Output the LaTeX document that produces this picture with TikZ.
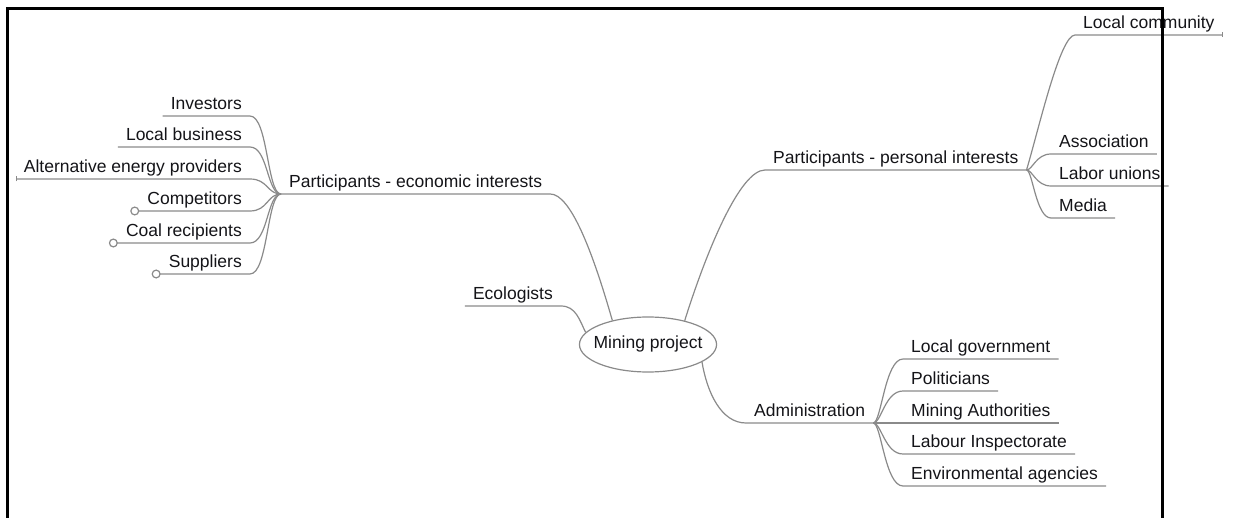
\documentclass[tikz,border=0pt]{standalone}
\usepackage{fontspec}
\setmainfont{Liberation Sans}
\usepackage{tikz}
\usetikzlibrary{arrows.meta,shapes.geometric}
\definecolor{LinkGrey}{HTML}{8A8A8A}
\definecolor{Ink}{HTML}{141418}
\tikzset{
  topic/.style   = {inner xsep=8pt, inner ysep=2pt, text height=12.5pt, text depth=4pt,
                    font=\fontsize{17.5}{20}\selectfont, text=Ink},
  hubnode/.style = {ellipse, draw=LinkGrey, line width=1.2pt, inner xsep=-6pt, inner ysep=0pt,
                    minimum height=55pt, text height=12.5pt, text depth=4pt,
                    font=\fontsize{17.5}{20}\selectfont, text=Ink},
  link/.style    = {draw=LinkGrey, line width=1.2pt},
  fold/.style    = {link, {Circle[open,length=9pt,width=9pt]}-},
  stubL/.style   = {link, {Bar[width=5pt,line width=1pt]}-},
  stubR/.style   = {link, -{Bar[width=5pt,line width=1pt]}},
  frameline/.style = {draw=black, line width=3pt},
}
\begin{document}
\begin{tikzpicture}[x=1pt, y=-1pt]
  \useasboundingbox (0,0) rectangle (1233,518);

  \node[hubnode] (hub) at (648,344.5) {Mining project};

  \node[topic, anchor=south west] (econ)     at (281,194) {Participants - economic interests};
  \node[topic, anchor=south east] (ecol)     at (561,306) {Ecologists};
  \node[topic, anchor=south west] (personal) at (765,170) {Participants - personal interests};
  \node[topic, anchor=south west] (admin)    at (746,423) {Administration};

  \node[topic, anchor=south east] (investors)   at (250,116) {Investors};
  \node[topic, anchor=south east] (localbiz)    at (250,147) {Local business};
  \node[topic, anchor=south east] (altenergy)   at (250,179) {Alternative energy providers};
  \node[topic, anchor=south east] (competitors) at (250,211) {Competitors};
  \node[topic, anchor=south east] (coalrec)     at (250,243) {Coal recipients};
  \node[topic, anchor=south east] (suppliers)   at (250,274) {Suppliers};

  \node[topic, anchor=south west] (localcomm)   at (1075,35)  {Local community};
  \node[topic, anchor=south west] (association) at (1051,154) {Association};
  \node[topic, anchor=south west] (unions)      at (1051,186) {Labor unions};
  \node[topic, anchor=south west] (media)       at (1051,218) {Media};

  \node[topic, anchor=south west] (localgov)    at (903,359) {Local government};
  \node[topic, anchor=south west] (politicians) at (903,391) {Politicians};
  \node[topic, anchor=south west] (miningauth)  at (903,423) {Mining Authorities};
  \node[topic, anchor=south west] (labour)      at (903,454) {Labour Inspectorate};
  \node[topic, anchor=south west] (envagency)   at (903,486) {Environmental agencies};

  % main branches
  \draw[link] (econ.south west) -- (econ.south east) .. controls +(20,0) and +(-20,-70) .. (hub.146);
  \draw[link] (ecol.south west) -- (ecol.south east) .. controls +(15,0) and +(-6,-12) .. (hub.169);
  \draw[link] (hub.33) .. controls +(22,-70) and +(-25,0) .. (personal.south west) -- (personal.south east);
  \draw[link] (hub.342) .. controls +(5,30) and +(-25,0) .. (admin.south west) -- (admin.south east);

  % economic interests
  \draw[link]  (investors.south west) -- (investors.south east) .. controls +(18,0) and +(-14,0) .. (econ.south west);
  \draw[link]  (localbiz.south west) -- (localbiz.south east) .. controls +(18,0) and +(-14,0) .. (econ.south west);
  \draw[stubL] (altenergy.south west) -- (altenergy.south east) .. controls +(18,0) and +(-14,0) .. (econ.south west);
  \draw[fold]  ([xshift=-9pt]competitors.south west) -- (competitors.south east) .. controls +(18,0) and +(-14,0) .. (econ.south west);
  \draw[fold]  ([xshift=-9pt]coalrec.south west) -- (coalrec.south east) .. controls +(18,0) and +(-14,0) .. (econ.south west);
  \draw[fold]  ([xshift=-9pt]suppliers.south west) -- (suppliers.south east) .. controls +(18,0) and +(-14,0) .. (econ.south west);

  % personal interests
  \draw[stubR] (personal.south east) .. controls +(12,-40) and +(-15,0) .. (localcomm.south west) -- (localcomm.south east);
  \draw[link]  (personal.south east) .. controls +(6,0) and +(-15,0) .. (association.south west) -- (association.south east);
  \draw[link]  (personal.south east) .. controls +(6,0) and +(-15,0) .. (unions.south west) -- (unions.south east);
  \draw[link]  (personal.south east) .. controls +(6,0) and +(-15,0) .. (media.south west) -- (media.south east);

  % administration
  \draw[link] (admin.south east) .. controls +(8,0) and +(-18,0) .. (localgov.south west) -- (localgov.south east);
  \draw[link] (admin.south east) .. controls +(8,0) and +(-18,0) .. (politicians.south west) -- (politicians.south east);
  \draw[link] (admin.south east) -- (miningauth.south west) -- (miningauth.south east);
  \draw[link] (admin.south east) .. controls +(8,0) and +(-18,0) .. (labour.south west) -- (labour.south east);
  \draw[link] (admin.south east) .. controls +(8,0) and +(-18,0) .. (envagency.south west) -- (envagency.south east);

  \draw[frameline] (7.5,518) -- (7.5,9) -- (1162,9) -- (1162,518);
\end{tikzpicture}
\end{document}
